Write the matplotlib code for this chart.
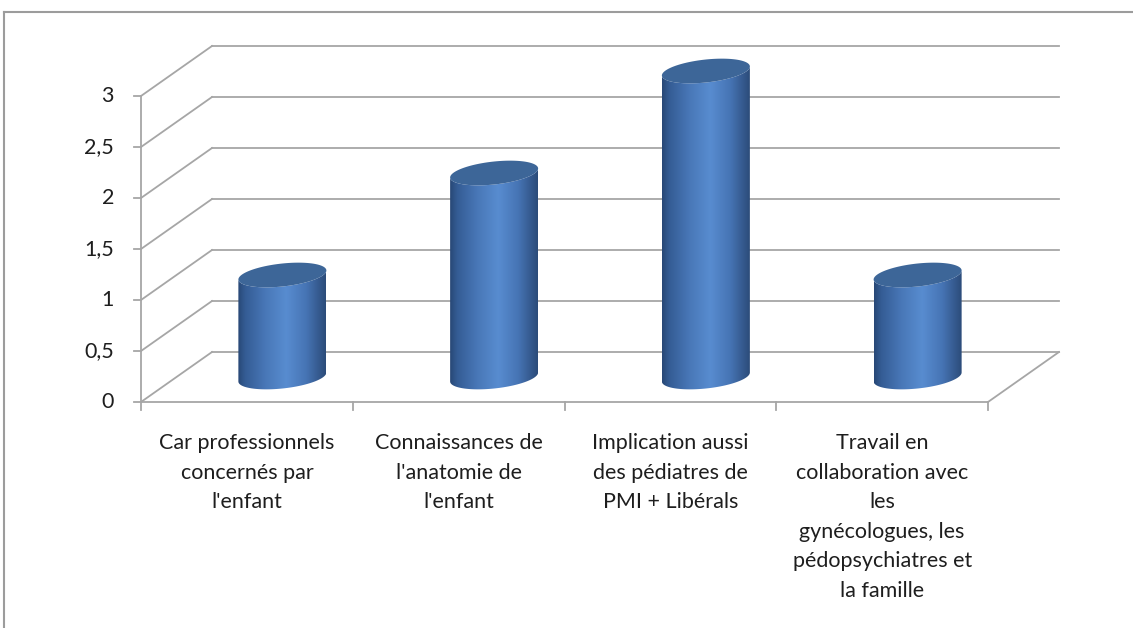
import numpy as np
import matplotlib.pyplot as plt
from matplotlib.patches import Polygon
from matplotlib.lines import Line2D

##########################################################
#                        Data                            #
##########################################################

categories = [
    "Car professionnels\nconcernés par\nl'enfant",
    "Connaissances de\nl'anatomie de\nl'enfant",
    "Implication aussi\ndes pédiatres de\nPMI + Libérals",
    "Travail en\ncollaboration avec\nles\ngynécologues, les\npédopsychiatres et\nla famille",
]
values = [1, 2, 3, 1]
y_ticks = [0, 0.5, 1, 1.5, 2, 2.5, 3]
y_tick_labels = ['0', '0,5', '1', '1,5', '2', '2,5', '3']

##########################################################
#                  Figure / fake 3D setup                #
##########################################################

W, H = 1133, 628
fig = plt.figure(figsize=(W / 100, H / 100), dpi=100)
ax = fig.add_axes([0, 0, 1, 1])

# front plane: category 0..4 spans px 141..988, value 0..3 spans px 402..96
PX_CAT = (988 - 141) / len(values)
PX_VAL = (402 - 96) / 3.0
ax.set_xlim(-141 / PX_CAT, (W - 141) / PX_CAT)
ax.set_ylim((402 - H) / PX_VAL, 402 / PX_VAL)
ax.axis('off')

DX = 71 / PX_CAT   # depth offset in category units
DY = 50 / PX_VAL   # depth offset in value units
grid_col = '#A6A6A6'
font = ['Lato', 'DejaVu Sans']
txt_col = '#1e1e1e'


def proj(x, v, d):
    return x + DX * d, v + DY * d


# back wall gridlines and side-wall diagonals
for v in y_ticks:
    x0, y0 = proj(0, v, 1)
    x1, y1 = proj(len(values), v, 1)
    ax.plot([x0, x1], [y0, y1], color=grid_col, lw=1.3, zorder=1)
    xa, ya = proj(0, v, 0)
    ax.plot([xa, x0], [ya, y0], color=grid_col, lw=1.3, zorder=1)

# floor front edge + right edge
fx, fy = proj(len(values), 0, 1)
ax.plot([0, len(values)], [0, 0], color=grid_col, lw=1.3, zorder=1)
ax.plot([len(values), fx], [0, fy], color=grid_col, lw=1.3, zorder=1)

# value axis
ax.plot([0, 0], [0, 3], color=grid_col, lw=1.3, zorder=1)
for v, lab in zip(y_ticks, y_tick_labels):
    ax.plot([-7 / PX_CAT, 0], [v, v], color=grid_col, lw=1.3)
    ax.annotate(lab, (0, v), xytext=(-27, 0), textcoords='offset pixels',
                ha='right', va='center', fontsize=15.5, family=font, color=txt_col)

# category ticks and labels
for i in range(len(values) + 1):
    ax.plot([i, i], [0, -8 / PX_VAL], color=grid_col, lw=1.3)
for i, lab in enumerate(categories):
    ax.annotate(lab, (i + 0.5, 0), xytext=(0, -31), textcoords='offset pixels',
                ha='center', va='top', fontsize=15.5, family=font, color=txt_col,
                linespacing=1.6, multialignment='center')

##########################################################
#                       Cylinders                        #
##########################################################

a = 44 / PX_CAT      # radius in x
b = 11.5 / PX_VAL    # ellipse half-height
s = 4.5 / PX_VAL     # tilt of the ellipse (right side higher)

stops = [0, 0.08, 0.3, 0.55, 0.78, 0.93, 1]
cols = np.array([[40, 72, 118], [52, 92, 148], [72, 118, 182], [88, 140, 208],
                 [70, 116, 180], [52, 88, 140], [44, 76, 122]]) / 255.0
u = np.linspace(0, 1, 200)
grad = np.stack([np.interp(u, stops, cols[:, k]) for k in range(3)], axis=-1)[None, :, :]

t_front = np.linspace(np.pi, 2 * np.pi, 80)
t_all = np.linspace(0, 2 * np.pi, 160)

for i, val in enumerate(values):
    cx, base = proj(i + 0.5, 0, 0.5)
    top = base + val
    # body outline: bottom front half-ellipse, then top front half reversed
    bx = cx + a * np.cos(t_front)
    by = base + b * np.sin(t_front) + s * np.cos(t_front)
    tx = (cx + a * np.cos(t_front))[::-1]
    ty = (top + b * np.sin(t_front) + s * np.cos(t_front))[::-1]
    body = Polygon(np.column_stack([np.r_[bx, tx], np.r_[by, ty]]), closed=True,
                   facecolor='none', edgecolor='none', transform=ax.transData)
    ax.add_patch(body)
    im = ax.imshow(grad, extent=[cx - a, cx + a, base - b - s, top + b + s],
                   aspect='auto', zorder=3, interpolation='bilinear')
    im.set_clip_path(body)
    # top cap
    capx = cx + a * np.cos(t_all)
    capy = top + b * np.sin(t_all) + s * np.cos(t_all)
    ax.fill(capx, capy, color='#3D6698', zorder=4, lw=0)

ax.set_xlim(-141 / PX_CAT, (W - 141) / PX_CAT)
ax.set_ylim((402 - H) / PX_VAL, 402 / PX_VAL)
ax.set_aspect('auto')

# chart border
fig.add_artist(Line2D([4 / W, 4 / W], [0, (H - 12) / H], color='#9C9C9C', lw=1.5))
fig.add_artist(Line2D([4 / W, 1], [(H - 12) / H, (H - 12) / H], color='#9C9C9C', lw=1.5))

fig.savefig('out.png', dpi=100)
